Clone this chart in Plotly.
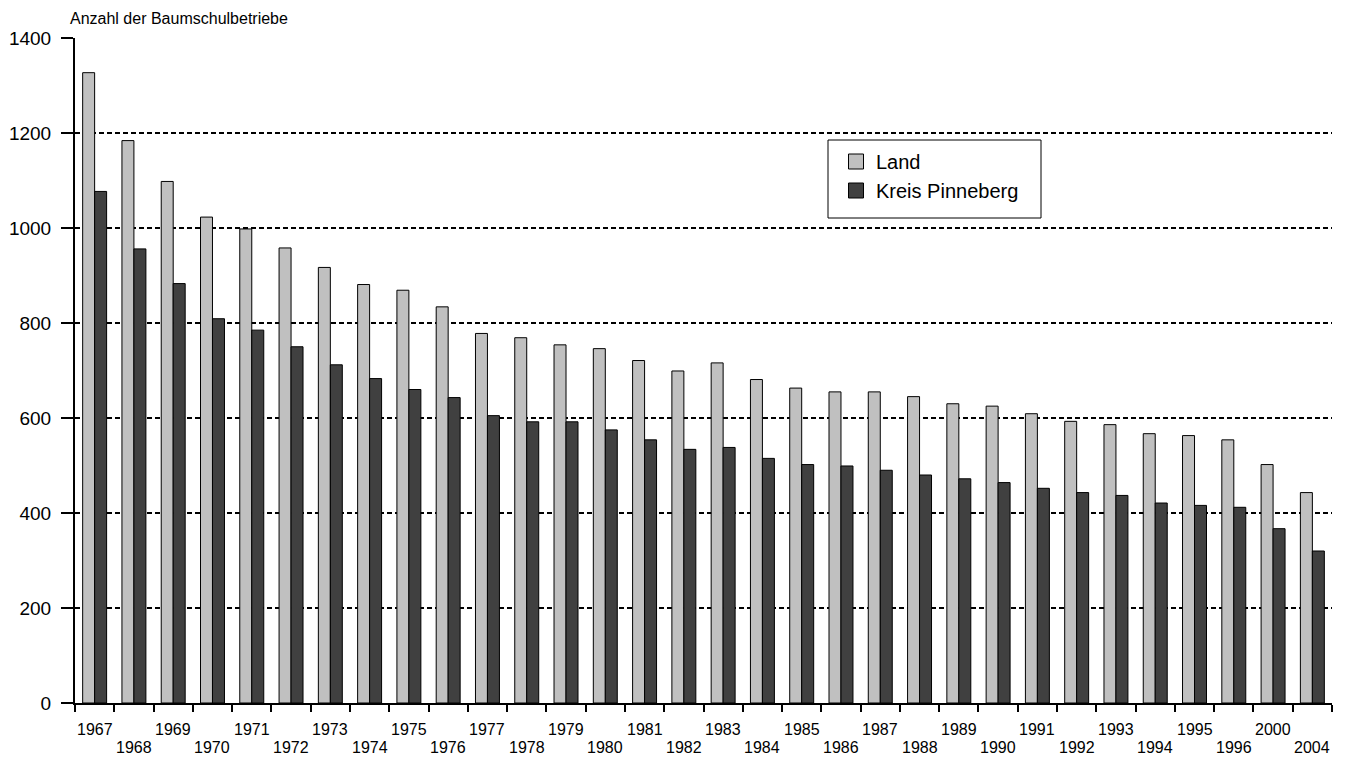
import plotly.graph_objects as go

years = ["1967", "1968", "1969", "1970", "1971", "1972", "1973", "1974", "1975", "1976",
         "1977", "1978", "1979", "1980", "1981", "1982", "1983", "1984", "1985", "1986",
         "1987", "1988", "1989", "1990", "1991", "1992", "1993", "1994", "1995", "1996",
         "2000", "2004"]

land = [1327, 1184, 1098, 1023, 998, 958, 917, 881, 869, 834,
        778, 769, 754, 746, 721, 699, 716, 681, 663, 655,
        655, 645, 630, 625, 609, 593, 586, 567, 563, 554,
        502, 443]

kreis = [1077, 956, 883, 809, 785, 750, 712, 683, 660, 643,
         605, 592, 592, 575, 554, 534, 538, 515, 502, 499,
         490, 480, 472, 464, 452, 443, 437, 421, 416, 412,
         367, 320]

series_names = ["Land", "Kreis Pinneberg"]
series_colors = ["#c0c0c0", "#404040"]

y_ticks = [0, 200, 400, 600, 800, 1000, 1200, 1400]

FONT = "Liberation Sans, Arial, sans-serif"

# page body has an 8px margin; figure is sized so plot area matches reference
W, H = 1340, 750
ML, MR, MT, MB = 67, 16, 30, 55
PW = W - ML - MR
PH = H - MT - MB


def px_x(px):  # reference page x -> paper fraction
    return (px - 8 - ML) / PW


def px_y(py):  # reference page y -> paper fraction
    return (H - MB + 8 - py) / PH


fig = go.Figure()
for name, vals, col in zip(series_names, [land, kreis], series_colors):
    fig.add_trace(go.Bar(x=years, y=vals, name=name, showlegend=False,
                         marker=dict(color=col, line=dict(color="black", width=1))))
# legend entries with larger square swatches
for name, col in zip(series_names, series_colors):
    fig.add_trace(go.Scatter(x=[None], y=[None], mode="markers", name=name,
                             marker=dict(symbol="square", size=15, color=col,
                                         line=dict(color="black", width=1))))

annotations = [dict(text="Anzahl der Baumschulbetriebe", xref="paper", yref="paper",
                    x=px_x(68), y=1, xanchor="left", yanchor="bottom", yshift=9,
                    showarrow=False, font=dict(family=FONT, size=16, color="black"))]
for i, yr in enumerate(years):
    annotations.append(dict(text=yr, xref="x", yref="paper", x=i, y=0,
                            xanchor="center", yanchor="middle",
                            yshift=-26 if i % 2 == 0 else -44,
                            showarrow=False, font=dict(family=FONT, size=16, color="black")))

fig.update_layout(
    width=W, height=H,
    margin=dict(l=ML, r=MR, t=MT, b=MB),
    paper_bgcolor="white", plot_bgcolor="white",
    font=dict(family=FONT, size=17, color="black"),
    barmode="group", bargap=0.39, bargroupgap=0,
    showlegend=True,
    legend=dict(x=px_x(836), y=px_y(142), xanchor="left", yanchor="top",
                bgcolor="rgba(0,0,0,0)", borderwidth=0, itemsizing="trace",
                font=dict(family=FONT, size=20, color="black"),
                tracegroupgap=0),
    shapes=[dict(type="rect", xref="paper", yref="paper",
                 x0=px_x(828), x1=px_x(1041), y0=px_y(218), y1=px_y(140),
                 line=dict(color="black", width=1), fillcolor="white", layer="above")],
    xaxis=dict(type="category", categoryorder="array", categoryarray=years,
               range=[-0.5, len(years) - 0.5],
               showticklabels=False, automargin=False,
               tickson="boundaries", ticks="outside", ticklen=7, tickwidth=2, tickcolor="black",
               showline=True, linecolor="black", linewidth=2, showgrid=False),
    yaxis=dict(range=[0, 1400], tickmode="array", tickvals=y_ticks, automargin=False,
               ticks="outside", ticklen=12, tickwidth=2, tickcolor="black",
               ticklabelstandoff=6,
               showline=True, linecolor="black", linewidth=2,
               showgrid=True, gridcolor="black", gridwidth=2, griddash="5px,3px",
               zeroline=False,
               tickfont=dict(family=FONT, size=19, color="black")),
    annotations=annotations,
)

fig.write_html("out.html")
